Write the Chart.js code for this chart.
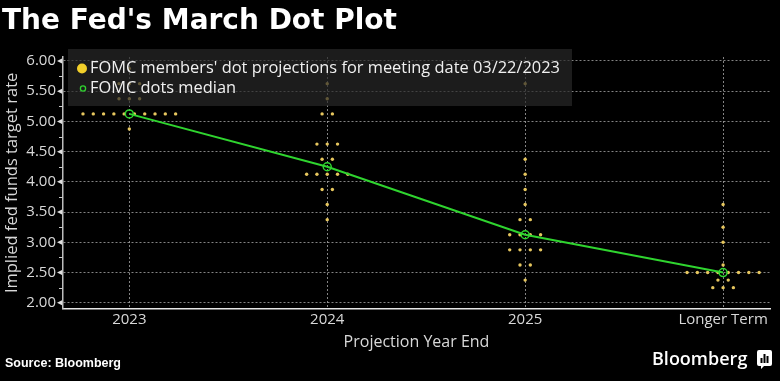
<!DOCTYPE html>
<html>
<head>
<meta charset="utf-8">
<script src="https://cdn.jsdelivr.net/npm/chart.js@4.4.0/dist/chart.umd.min.js"></script>
<style>
  html, body { margin: 0; padding: 0; background: #000; }
  #wrap { position: relative; width: 780px; height: 381px; overflow: hidden; background: #000; }
  #chart { position: absolute; left: 0; top: 0; }
  #title { position: absolute; left: 2px; top: 4px; font: bold 28px "DejaVu Sans"; line-height: 32px; color: #fff; white-space: nowrap; }
  #source { position: absolute; left: 5px; top: 356px; font: bold 12.5px "Liberation Sans"; line-height: 14px; color: #fff; }
  #logo { position: absolute; left: 652px; top: 348px; font: 600 18px "Open Sans"; line-height: 20px; color: #fff; }
  #icon { position: absolute; left: 757px; top: 350px; }
</style>
</head>
<body>
<div id="wrap">
  <canvas id="chart" width="780" height="381"></canvas>
  <div id="title">The Fed's March Dot Plot</div>
  <div id="source">Source: Bloomberg</div>
  <div id="logo">Bloomberg</div>
  <svg id="icon" width="15" height="19" viewBox="0 0 15 19">
    <path d="M2 0h11a2 2 0 0 1 2 2v12a2 2 0 0 1-2 2H7l-3 3v-3H2a2 2 0 0 1-2-2V2a2 2 0 0 1 2-2z" fill="#fff"/>
    <rect x="3.5" y="8" width="2" height="5" fill="#000"/>
    <rect x="6.5" y="4" width="2" height="9" fill="#000"/>
    <rect x="9.5" y="6" width="2" height="7" fill="#000"/>
  </svg>
</div>
<script>
// data //

const categories = ['2023', '2024', '2025', 'Longer Term'];

// rate levels of each projection and how many FOMC members put a dot there
const rates2023 = [5.875, 5.625, 5.375, 5.125, 4.875];
const counts2023 = [1, 3, 3, 10, 1];

const rates2024 = [5.625, 5.375, 5.125, 4.625, 4.375, 4.125, 3.875, 3.625, 3.375];
const counts2024 = [1, 1, 2, 3, 2, 5, 2, 1, 1];

const rates2025 = [5.625, 4.375, 4.125, 3.875, 3.625, 3.375, 3.125, 2.875, 2.625, 2.375];
const counts2025 = [1, 1, 1, 1, 1, 2, 4, 4, 2, 1];

const ratesLonger = [3.625, 3.25, 3.0, 2.625, 2.5, 2.375, 2.25];
const countsLonger = [1, 1, 1, 1, 8, 2, 3];

const medians = [5.125, 4.25, 3.125, 2.5];

const yTicks = [2.0, 2.5, 3.0, 3.5, 4.0, 4.5, 5.0, 5.5, 6.0];

const dotsLabel = "FOMC members' dot projections for meeting date 03/22/2023";
const medianLabel = 'FOMC dots median';

// dots with the same rate sit side by side, centered on the year
const DOT_STEP = 0.052;

function spread(catIndex, rates, counts) {
    let pts = [];
    rates.forEach((r, j) => {
        for (let k = 0; k < counts[j]; k++) {
            pts.push({ x: catIndex + (k - (counts[j] - 1) / 2) * DOT_STEP, y: r });
        }
    });
    return pts;
}

const dotPoints = [].concat(
    spread(0, rates2023, counts2023),
    spread(1, rates2024, counts2024),
    spread(2, rates2025, counts2025),
    spread(3, ratesLonger, countsLonger)
);

const medianPoints = medians.map((m, i) => ({ x: i, y: m }));

const DOT_COLOR = '#e6c65e';
const MEDIAN_COLOR = '#2fd42f';
const TEXT_COLOR = '#d8d8d8';

// ticks on the y axis + legend box drawn inside the plot
const overlay = {
    id: 'overlay',
    afterDatasetsDraw(chart) {
        const ctx = chart.ctx;
        const area = chart.chartArea;
        const y = chart.scales.y;

        ctx.save();
        ctx.fillStyle = '#e0e0e0';
        ctx.strokeStyle = '#c8c8c8';
        ctx.lineWidth = 1;
        yTicks.forEach((v, i) => {
            const py = y.getPixelForValue(v);
            ctx.beginPath();
            ctx.moveTo(area.left - 6, py);
            ctx.lineTo(area.left - 1, py - 2.5);
            ctx.lineTo(area.left - 1, py + 2.5);
            ctx.closePath();
            ctx.fill();
            if (i < yTicks.length - 1) {
                const pm = y.getPixelForValue(v + 0.25);
                ctx.beginPath();
                ctx.moveTo(area.left - 4, Math.round(pm) + 0.5);
                ctx.lineTo(area.left, Math.round(pm) + 0.5);
                ctx.stroke();
            }
        });

        // legend
        const bx = area.left + 5;
        const by = area.top - 8;
        ctx.fillStyle = 'rgba(40, 40, 40, 0.7)';
        ctx.fillRect(bx, by, 504, 57);

        ctx.beginPath();
        ctx.arc(bx + 14, by + 19.5, 5, 0, Math.PI * 2);
        ctx.fillStyle = '#f2cf2a';
        ctx.fill();

        ctx.beginPath();
        ctx.arc(bx + 15, by + 39.5, 2.6, 0, Math.PI * 2);
        ctx.strokeStyle = MEDIAN_COLOR;
        ctx.lineWidth = 1.3;
        ctx.stroke();

        ctx.fillStyle = '#f0f0f0';
        ctx.font = '16.4px "Open Sans"';
        ctx.textBaseline = 'middle';
        ctx.textAlign = 'left';
        ctx.fillText(dotsLabel, bx + 22, by + 19.5);
        ctx.fillText(medianLabel, bx + 22, by + 39.5);
        ctx.restore();
    }
};

const gridColor = 'rgba(175, 175, 175, 0.75)';

let ctx = document.getElementById('chart').getContext('2d');
let myChart = new Chart(ctx, {
    type: 'scatter',
    data: {
        datasets: [
            {
                label: medianLabel,
                data: medianPoints,
                showLine: true,
                borderColor: MEDIAN_COLOR,
                borderWidth: 2,
                pointRadius: 4,
                pointBorderWidth: 1.5,
                pointBorderColor: MEDIAN_COLOR,
                pointBackgroundColor: 'rgba(0,0,0,0)',
                tension: 0,
                order: 1
            },
            {
                label: dotsLabel,
                data: dotPoints,
                pointRadius: 1.7,
                pointBorderWidth: 0,
                pointBackgroundColor: DOT_COLOR,
                backgroundColor: DOT_COLOR,
                order: 2
            }
        ]
    },
    options: {
        responsive: false,
        animation: false,
        layout: { padding: { left: 0, right: 10, top: 57, bottom: 29 } },
        plugins: {
            legend: { display: false },
            tooltip: { enabled: false }
        },
        scales: {
            x: {
                type: 'linear',
                min: -0.335,
                max: 3.237,
                afterBuildTicks: (scale) => { scale.ticks = categories.map((c, i) => ({ value: i })); },
                ticks: {
                    callback: (v) => categories[v],
                    color: TEXT_COLOR,
                    font: { family: 'Open Sans', size: 15 },
                    padding: 2,
                    maxRotation: 0,
                    autoSkip: false
                },
                grid: { color: gridColor, lineWidth: 1, drawTicks: false },
                border: { display: true, color: '#e6e6e6', width: 1.5, dash: [2, 2] },
                title: {
                    display: true,
                    text: 'Projection Year End',
                    color: TEXT_COLOR,
                    font: { family: 'Open Sans', size: 16 },
                    padding: { top: 2, bottom: 0 }
                }
            },
            y: {
                type: 'linear',
                min: 1.9,
                max: 6.066,
                afterBuildTicks: (scale) => { scale.ticks = yTicks.map((v) => ({ value: v })); },
                afterFit: (scale) => { scale.width = 63; },
                ticks: {
                    callback: (v) => v.toFixed(2),
                    color: TEXT_COLOR,
                    font: { family: 'Open Sans', size: 15 },
                    padding: 7
                },
                grid: { color: gridColor, lineWidth: 1, drawTicks: false },
                border: { display: true, color: '#bdbdbd', width: 1.5, dash: [2, 2] },
                title: {
                    display: true,
                    text: 'Implied fed funds target rate',
                    color: TEXT_COLOR,
                    font: { family: 'Open Sans', size: 16.5 },
                    padding: { top: 2, bottom: 0 }
                }
            }
        }
    },
    plugins: [overlay]
});
</script>
</body>
</html>
